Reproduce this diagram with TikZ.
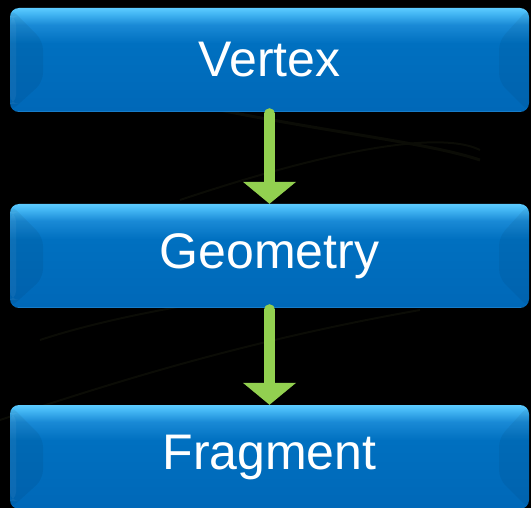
\documentclass[tikz,border=0pt]{standalone}
\usepackage{fontspec}
\setmainfont{Liberation Sans}
\usetikzlibrary{arrows.meta}
\definecolor{boxblue}{HTML}{0070C0}
\definecolor{bedge}{HTML}{3A9AE0}
\definecolor{bbot}{HTML}{0068B8}
\definecolor{bmid}{HTML}{1A8AD6}
\definecolor{btoptwo}{HTML}{45B8F5}
\definecolor{btop}{HTML}{5CCBFF}
\definecolor{arrowgreen}{HTML}{92D050}
\definecolor{swoosh}{HTML}{0B0C06}
\pgfdeclareverticalshading{boxshade}{100bp}{color(0bp)=(bedge); color(25bp)=(bedge); color(25.8bp)=(bbot); color(58bp)=(boxblue); color(67bp)=(bmid); color(72.5bp)=(btoptwo); color(75bp)=(btop); color(100bp)=(btop)}
\tikzset{
  stagebox/.style={rectangle, rounded corners=9pt, minimum width=519pt, minimum height=104pt,
    inner sep=0pt, shading=boxshade, text=white, font=\fontsize{50}{60}\selectfont,
    path picture={
      \fill[black, fill opacity=0.06] (path picture bounding box.north west) -- ++(33pt,-33pt)
        -- ([xshift=33pt,yshift=30pt]path picture bounding box.south west)
        -- (path picture bounding box.south west) -- cycle;
      \fill[black, fill opacity=0.05] (path picture bounding box.north east) -- ++(-30pt,-33pt)
        -- ([xshift=-30pt,yshift=30pt]path picture bounding box.south east)
        -- (path picture bounding box.south east) -- cycle;
      \fill[white, fill opacity=0.05] ([yshift=-8pt]path picture bounding box.north west) rectangle ([xshift=6pt,yshift=8pt]path picture bounding box.south west);
    }},
  flowarrow/.style={draw=arrowgreen, line width=11pt, line cap=round,
    -{Triangle[length=22pt,width=52pt]}}
}
\begin{document}
\begin{tikzpicture}[x=1pt,y=-1pt]
  \fill[black] (0,0) rectangle (531,508);
  \useasboundingbox (0,0) rectangle (531,508);
  \draw[swoosh, line width=3pt] (150,95) .. controls (300,130) and (420,140) .. (480,160);
  \draw[swoosh, line width=2pt] (180,200) .. controls (330,150) and (440,130) .. (480,150);
  \draw[swoosh, line width=2pt] (0,420) .. controls (120,380) and (250,340) .. (420,310);
  \draw[swoosh, line width=2pt] (40,340) .. controls (100,320) and (200,300) .. (300,290);
  \node[stagebox] (vertex) at (269.5,60) {Vertex};
  \node[stagebox] (geometry) at (269.5,256) {Geometry};
  \node[stagebox] (fragment) at (269.5,457) {Fragment};
  \draw[flowarrow] ([yshift=-1.5pt]vertex.south) -- (geometry.north);
  \draw[flowarrow] ([yshift=-1.5pt]geometry.south) -- (fragment.north);
\end{tikzpicture}
\end{document}
